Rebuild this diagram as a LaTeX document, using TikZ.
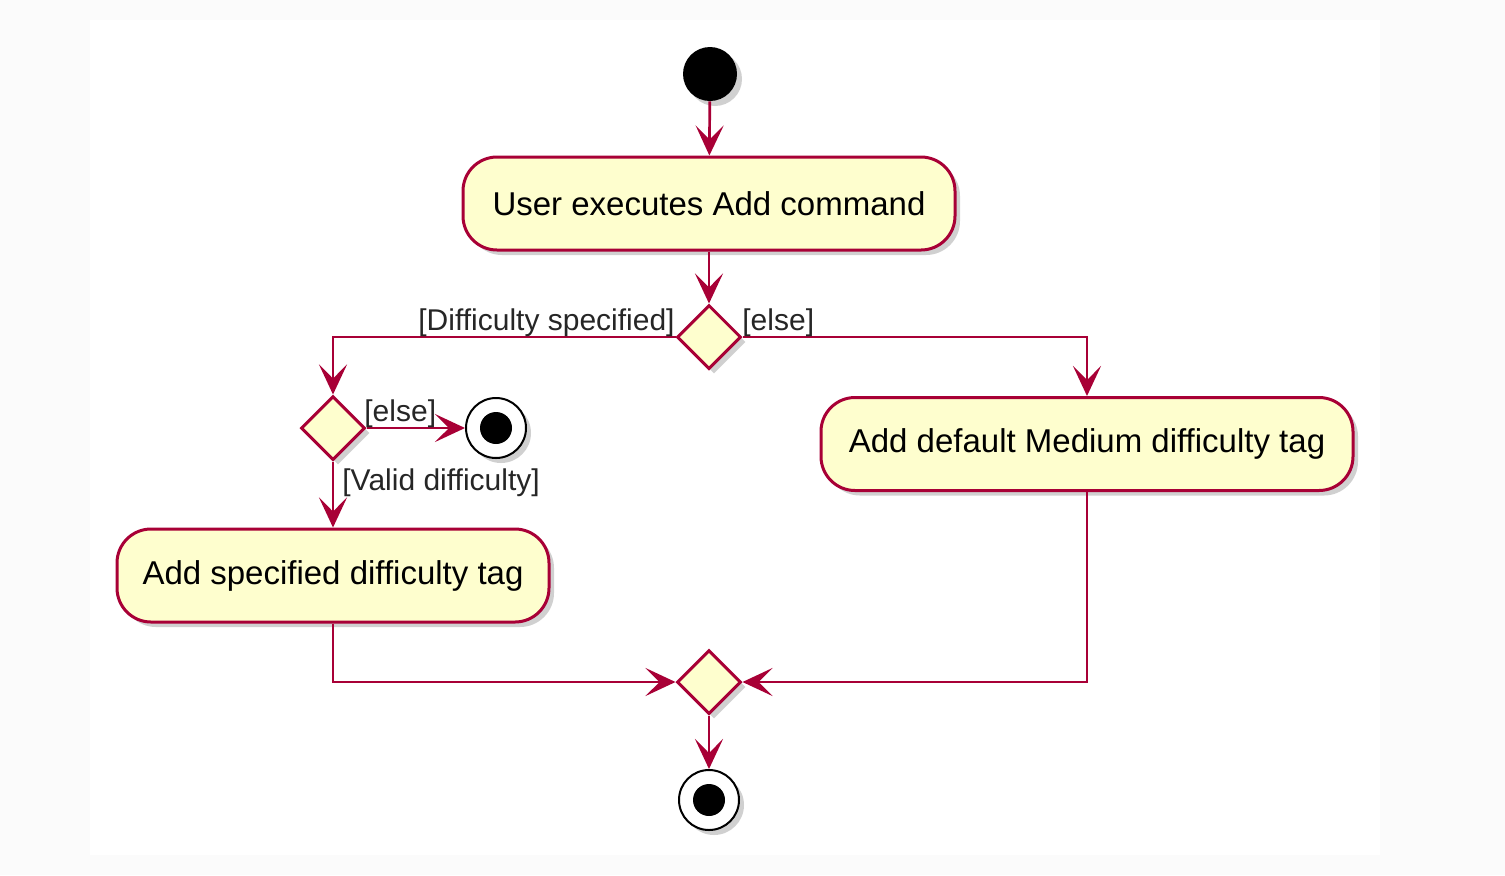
\documentclass[tikz,border=0pt]{standalone}
\usepackage{fontspec}
\setmainfont{Liberation Sans}
\usetikzlibrary{shapes.geometric,arrows.meta,shadows}
\definecolor{pborder}{HTML}{A80036}
\definecolor{pfill}{HTML}{FEFECE}
\definecolor{outerbg}{HTML}{FBFBFB}
\begin{document}
\begin{tikzpicture}[x=0.5pt,y=-0.5pt,
 shadowed/.style={drop shadow={shadow xshift=2.5pt,shadow yshift=-2.5pt,opacity=0.3,fill=black!60}},
 action/.style={rectangle, rounded corners=17pt, draw=pborder, fill=pfill, line width=1.5pt, minimum height=46.5pt, inner sep=0pt, font=\fontsize{16.5}{18}\selectfont, shadowed},
 decision/.style={diamond, aspect=1, draw=pborder, fill=pfill, line width=1.5pt, minimum width=32pt, minimum height=32pt, inner sep=0pt, shadowed},
 startnode/.style={circle, fill=black, minimum size=27pt, inner sep=0pt, shadowed},
 endnode/.style={circle, draw=black, line width=1pt, fill=white, minimum size=30pt, inner sep=0pt, shadowed},
 enddot/.style={circle, fill=black, minimum size=16pt, inner sep=0pt},
 flow/.style={draw=pborder, line width=1.35pt, -{Stealth[length=15pt,width=14pt,inset=7pt]}},
 guard/.style={font=\fontsize{15}{17}\selectfont, inner sep=0pt, text=black!85},
]
\useasboundingbox (0,0) rectangle (1505,875);
\fill[outerbg] (0,0) rectangle (1505,875);
\fill[white] (90,20) rectangle (1380,855);

\node[startnode] (start) at (710,74) {};
\node[action, minimum width=246pt] (act1) at (709,203.5) {\raisebox{-1.5pt}{User executes Add command}};
\node[decision] (d1) at (709,337) {};
\node[decision] (d2) at (333,428) {};
\node[endnode] (end1) at (496,428) {};
\node[enddot] (end1dot) at (496,428) {};
\node[action, minimum width=216pt] (act2) at (333,575.5) {\raisebox{-1.5pt}{Add specified difficulty tag}};
\node[action, minimum width=266pt] (act3) at (1087,444) {\raisebox{-1.5pt}{Add default Medium difficulty tag}};
\node[decision] (merge) at (709,682) {};
\node[endnode] (end2) at (709,800) {};
\node[enddot] (end2dot) at (709,800) {};

\draw[flow] (start) -- (act1);
\draw[flow] (act1) -- (d1);
\draw[flow] (d1.west) -| (d2.north);
\draw[flow] (d1.east) -| (act3.north);
\draw[flow] (d2.east) -- (end1);
\draw[flow] (d2.south) -- (act2.north);
\draw[flow] (act2.south) |- (merge.west);
\draw[flow] (act3.south) |- (merge.east);
\draw[flow] (merge) -- (end2);

\node[guard, anchor=base east] (g1) at (675,330) {[Difficulty specified]};
\node[guard, anchor=base west] (g2) at (742,330) {[else]};
\node[guard, anchor=base west] (g3) at (364,421) {[else]};
\node[guard, anchor=base west] (g4) at (342,490) {[Valid difficulty]};
\end{tikzpicture}
\end{document}
